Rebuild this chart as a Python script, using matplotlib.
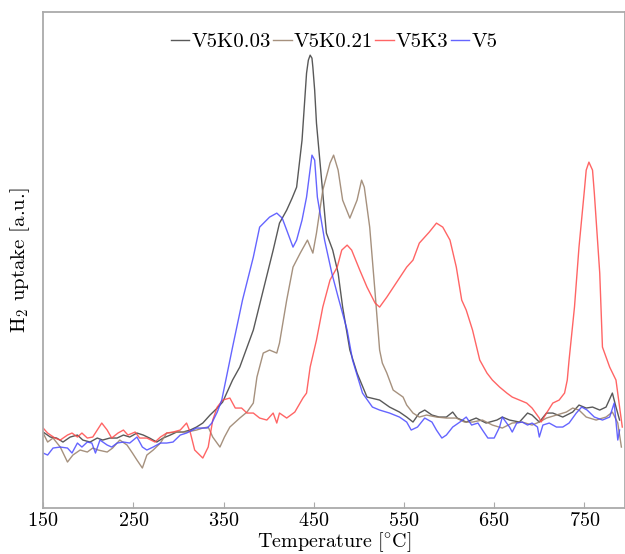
import matplotlib
matplotlib.use("Agg")
import matplotlib.pyplot as plt

plt.rcParams['font.family'] = ['cmr10', 'DejaVu Serif']
plt.rcParams['mathtext.fontset'] = 'cm'
plt.rcParams['axes.formatter.use_mathtext'] = True

# TPR traces: temperature [°C] and H2 uptake [a.u.]
t_k003 = [150, 158, 165, 172, 180, 188, 194, 202, 210, 216, 224, 232, 239, 246,
          254, 261, 268, 276, 283, 291, 298, 305, 313, 320, 327, 335, 343, 349,
          360, 368, 383, 394, 405, 412, 420, 426, 431, 437, 442, 444, 446, 448,
          449, 451, 453, 459, 464, 471, 477, 482, 490, 498, 509, 523, 534, 545,
          553, 560, 567, 573, 581, 589, 597, 604, 609, 619, 630, 641, 653, 659,
          667, 678, 687, 692, 700, 708, 715, 726, 737, 744, 752, 759, 767, 774,
          781, 785, 789]
y_k003 = [76, 71, 70, 66, 71, 73, 68, 66, 70, 68, 70, 70, 73, 71,
          75, 73, 70, 66, 70, 73, 76, 76, 78, 81, 85, 93, 100, 106,
          128, 141, 178, 218, 258, 285, 298, 310, 321, 368, 435, 448, 453, 450,
          441, 418, 385, 325, 275, 258, 235, 201, 158, 135, 111, 108, 101, 96,
          91, 86, 95, 98, 93, 91, 91, 96, 90, 86, 90, 85, 88, 91,
          88, 86, 95, 93, 86, 95, 95, 91, 96, 103, 100, 101, 98, 101,
          115, 101, 88]

t_k021 = [150, 155, 161, 169, 177, 183, 191, 199, 205, 211, 221, 227, 235, 243,
          249, 254, 260, 265, 272, 280, 287, 298, 309, 320, 327, 333, 338, 346,
          351, 357, 368, 376, 383, 387, 394, 401, 409, 412, 420, 427, 435, 443,
          449, 453, 460, 468, 472, 477, 482, 490, 498, 503, 506, 512, 518, 523,
          526, 531, 538, 549, 553, 560, 567, 575, 586, 597, 608, 617, 626, 637,
          648, 659, 670, 681, 692, 700, 708, 719, 730, 737, 744, 752, 763, 774,
          781, 787, 791]
y_k021 = [75, 66, 70, 61, 46, 53, 58, 56, 60, 58, 56, 60, 68, 63,
          55, 48, 40, 53, 58, 65, 75, 76, 76, 78, 80, 81, 71, 61,
          71, 81, 90, 96, 105, 131, 155, 158, 155, 165, 208, 241, 255, 268,
          255, 275, 318, 345, 353, 338, 308, 290, 308, 328, 321, 281, 215, 158,
          145, 135, 118, 111, 103, 95, 91, 93, 91, 90, 90, 86, 86, 88,
          83, 80, 85, 86, 83, 86, 90, 93, 96, 100, 98, 91, 88, 91,
          96, 85, 61]

t_k3 = [150, 155, 163, 169, 177, 182, 188, 193, 199, 205, 215, 221, 226, 233,
        239, 244, 252, 257, 265, 274, 280, 287, 294, 302, 309, 313, 318, 327,
        333, 338, 343, 349, 357, 363, 370, 376, 383, 390, 398, 405, 409, 412,
        420, 429, 438, 442, 446, 453, 460, 468, 476, 481, 487, 492, 501, 509,
        518, 523, 531, 542, 553, 560, 567, 578, 586, 593, 601, 608, 614, 619,
        626, 634, 642, 648, 656, 664, 670, 678, 686, 692, 700, 702, 708, 715,
        722, 728, 731, 733, 739, 744, 750, 752, 755, 759, 761, 767, 770, 778,
        785, 789, 792]
y_k3 = [80, 75, 70, 68, 73, 75, 71, 75, 70, 71, 85, 78, 70, 75,
        78, 73, 76, 70, 70, 66, 71, 75, 76, 78, 85, 76, 58, 50,
        61, 88, 101, 108, 110, 100, 100, 95, 95, 90, 88, 95, 85, 95,
        90, 96, 110, 115, 141, 168, 201, 228, 241, 258, 263, 258, 238, 221,
        205, 201, 211, 226, 241, 248, 265, 276, 285, 281, 268, 241, 208, 198,
        178, 148, 135, 128, 121, 115, 111, 108, 105, 100, 90, 86, 95, 105,
        108, 115, 128, 148, 201, 261, 318, 338, 346, 338, 315, 235, 161, 141,
        128, 101, 81]

t_v5 = [150, 155, 161, 169, 177, 182, 188, 193, 199, 204, 208, 213, 221, 226,
        232, 239, 246, 254, 260, 265, 272, 280, 287, 294, 302, 309, 320, 332,
        337, 343, 348, 360, 371, 383, 390, 401, 409, 415, 420, 427, 431, 437,
        442, 448, 451, 454, 462, 470, 477, 487, 493, 504, 515, 523, 534, 545,
        553, 558, 565, 573, 581, 586, 592, 597, 604, 612, 619, 625, 632, 637,
        643, 650, 656, 659, 667, 670, 675, 681, 687, 692, 698, 700, 704, 711,
        719, 726, 733, 741, 747, 753, 761, 770, 778, 783, 787, 789]
y_v5 = [55, 53, 60, 61, 60, 55, 65, 61, 66, 65, 55, 68, 63, 61,
        65, 66, 65, 71, 61, 58, 61, 65, 65, 66, 73, 75, 80, 80,
        85, 96, 108, 161, 208, 251, 281, 291, 295, 290, 278, 261, 268, 288,
        311, 353, 348, 311, 268, 235, 211, 178, 148, 115, 101, 98, 95, 91,
        86, 78, 81, 90, 86, 78, 70, 73, 81, 86, 91, 83, 85, 78,
        70, 70, 81, 91, 81, 76, 85, 86, 83, 85, 81, 71, 83, 85,
        81, 81, 85, 95, 101, 98, 91, 88, 91, 105, 68, 78]

labels = ['V5K0.03', 'V5K0.21', 'V5K3', 'V5']
xticks = [150, 250, 350, 450, 550, 650, 750]

fig = plt.figure(figsize=(6.25, 5.54), dpi=100)
ax = fig.add_axes([0.069, 0.083, 0.931, 0.895])

ax.plot(t_k003, y_k003, color='#3c3c3c', alpha=0.85, lw=1.0, label=labels[0])
ax.plot(t_k021, y_k021, color='#9c8570', alpha=0.9, lw=1.0, label=labels[1])
ax.plot(t_k3, y_k3, color='#ff4a4a', alpha=0.85, lw=1.0, label=labels[2])
ax.plot(t_v5, y_v5, color='#4a4aff', alpha=0.85, lw=1.0, label=labels[3])

ax.set_xlim(150, 795)
ax.set_ylim(0, 496)
ax.set_xticks(xticks)
ax.set_yticks([])
ax.tick_params(axis='x', direction='in', length=4, color='#aaaaaa',
               labelsize=14.5, pad=3)
for s in ax.spines.values():
    s.set_color('#aaaaaa')
    s.set_linewidth(1.3)

ax.set_xlabel(r'$\mathrm{Temperature\ [{}^{\circ}C]}$', fontsize=14.5, labelpad=0)
ax.set_ylabel(r'H$_2$ uptake [a.u.]', fontsize=15, labelpad=8)

ax.legend(loc='center', bbox_to_anchor=(0.5, 0.94), ncol=4, frameon=False,
          fontsize=15, handlelength=0.9, handletextpad=0.1,
          columnspacing=0.1, borderpad=0)

fig.savefig('out.png', dpi=100)
